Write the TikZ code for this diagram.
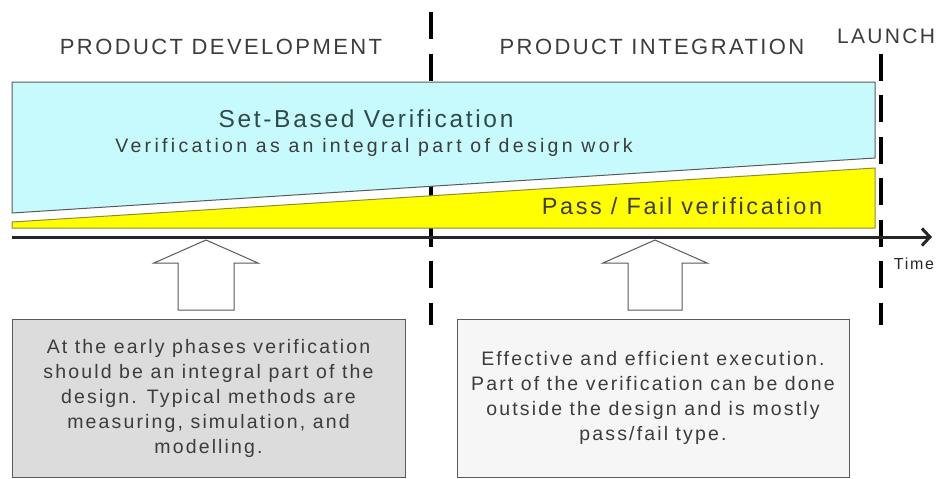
\documentclass[tikz,border=0pt]{standalone}
\usepackage{fontspec}
\setmainfont{Liberation Sans}[LetterSpace=11]
\usetikzlibrary{arrows.meta}
\definecolor{myCyan}{HTML}{C6FAFD}
\definecolor{myYellow}{HTML}{FFFF00}
\definecolor{myGrey}{HTML}{DCDCDC}
\definecolor{myPale}{HTML}{F6F6F6}
\definecolor{myInk}{HTML}{3C3C3C}
\definecolor{myEdge}{HTML}{5A5A5A}

\begin{document}
\begin{tikzpicture}[x=1pt, y=-1pt, myInk]

  \tikzstyle{H}=[text=myInk, inner sep=0pt, anchor=base, font=\fontsize{22}{26}\selectfont]
  \tikzstyle{T}=[text=myInk, inner sep=0pt, anchor=base]
  \tikzstyle{Phase}=[line width=4pt, black, dash pattern=on 27pt off 14.5pt]
  \tikzstyle{Box}=[draw=myEdge, line width=1pt, minimum width=393pt, minimum height=158pt, align=center, text=myInk, font=\fontsize{19.5}{25}\selectfont]
  \tikzstyle{Up}=[draw=myEdge, line width=1pt, fill=white]

  \useasboundingbox (0,0) rectangle (938,479);

  % phase borders (behind the bands)
  \coordinate (devTop) at (431,12);
  \coordinate (devBot) at (431,325);
  \coordinate (launchTop) at (881,53.5);
  \coordinate (launchBot) at (881,325);
  \draw [Phase] (devTop) -- (devBot);
  \draw [Phase] (launchTop) -- (launchBot);

  % bands
  \filldraw [fill=myCyan, draw=myEdge, line width=1pt] (12,82) -- (875,82) -- (875,158) -- (12,213) -- cycle;
  \filldraw [fill=myYellow, draw=myEdge!70!myYellow, line width=1pt] (12,222) -- (875,168) -- (875,228) -- (12,228) -- cycle;

  % time axis
  \coordinate (t0) at (12,237);
  \coordinate (t1) at (932,237);
  \draw [line width=3pt, black!85, -{Straight Barb[length=8pt, width=17pt]}] (t0) -- (t1);
  \node[T, text=black!85, font=\fontsize{16}{18}\selectfont] at (914,269) (time) {Time};

  % headings
  \node[H] at (221,54) (dev) {PRODUCT DEVELOPMENT};
  \node[H] at (652,54) (integ) {PRODUCT INTEGRATION};
  \node[H, font=\fontsize{21}{25}\selectfont] at (886,43) (launch) {LAUNCH};

  \node[T, font=\fontsize{24.5}{30}\selectfont, text=myInk!80!teal] at (366,127) (setbased) {Set-Based Verification};
  \node[T, font=\fontsize{19.5}{22}\selectfont\addfontfeature{LetterSpace=17}] at (374,152) (integral) {Verification as an integral part of design work};
  \node[T, font=\fontsize{23.5}{27}\selectfont] at (682,214) (passfail) {Pass / Fail verification};

  % notes
  \node[Box, fill=myGrey] at (208.5,398) (early) {At the early phases verification\\should be an integral part of the\\design. Typical methods are\\measuring, simulation, and\\modelling.};
  \node[Box, fill=myPale, minimum width=392pt] at (653,398) (late) {Effective and efficient execution.\\Part of the verification can be done\\outside the design and is mostly\\pass/fail type.};

  % block arrows up to the axis
  \coordinate (tipA) at (206,240);
  \coordinate (tipB) at (655,240);
  \draw [Up] (tipA) -- ++(52,23) -- ++(-24,0) -- ++(0,47) -- ++(-56,0) -- ++(0,-47) -- ++(-24,0) -- cycle;
  \draw [Up] (tipB) -- ++(52,23) -- ++(-25,0) -- ++(0,47) -- ++(-54,0) -- ++(0,-47) -- ++(-25,0) -- cycle;

\end{tikzpicture}
\end{document}
